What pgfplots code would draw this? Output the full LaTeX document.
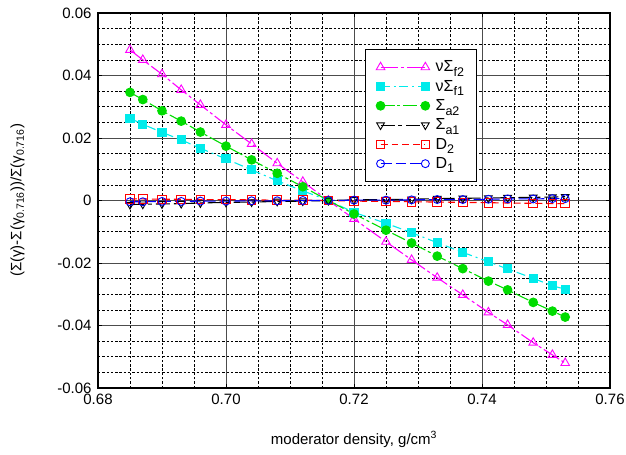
\documentclass[border=0pt]{standalone}
\usepackage{pgfplots}
\pgfplotsset{compat=1.18}
\usepackage{fontspec}
\setmainfont{Liberation Sans}
\setsansfont{Liberation Sans}
\usetikzlibrary{plotmarks}

\definecolor{cmag}{RGB}{255,0,255}
\definecolor{ccyan}{RGB}{0,235,235}
\definecolor{cgreen}{RGB}{0,220,0}
\definecolor{cred}{RGB}{255,0,0}
\definecolor{cblue}{RGB}{0,0,255}

% relative change of each constant vs. moderator density
\pgfplotstableread{
x      nf2      nf1      a2       a1       d2       d1
0.685  0.0482   0.0263   0.0346  -0.0013   0.0005  -0.0004
0.687  0.0450   0.0244   0.0323  -0.0012   0.0005  -0.0004
0.690  0.0404   0.0218   0.0287  -0.0011   0.0004  -0.0003
0.693  0.0354   0.0194   0.0254  -0.0010   0.0004  -0.0003
0.696  0.0306   0.0167   0.0219  -0.0008   0.0003  -0.0002
0.700  0.0242   0.0133   0.0174  -0.0006   0.0003  -0.0002
0.704  0.0181   0.0098   0.0130  -0.0005   0.0002  -0.0001
0.708  0.0119   0.0063   0.0087  -0.0003   0.0001  -0.0001
0.712  0.0060   0.0031   0.0044  -0.0002   0.0001   0.0000
0.716  0.0000   0.0000   0.0000   0.0000   0.0000   0.0000
0.720 -0.0059  -0.0038  -0.0043   0.0002  -0.0002   0.0001
0.725 -0.0132  -0.0073  -0.0095   0.0003  -0.0003   0.0001
0.729 -0.0190  -0.0103  -0.0136   0.0004  -0.0004   0.0002
0.733 -0.0247  -0.0135  -0.0178   0.0006  -0.0005   0.0003
0.737 -0.0302  -0.0166  -0.0218   0.0007  -0.0006   0.0003
0.741 -0.0358  -0.0196  -0.0258   0.0008  -0.0007   0.0004
0.744 -0.0398  -0.0219  -0.0286   0.0009  -0.0008   0.0005
0.748 -0.0455  -0.0249  -0.0326   0.0010  -0.0009   0.0005
0.751 -0.0494  -0.0273  -0.0354   0.0011  -0.0010   0.0006
0.753 -0.0520  -0.0284  -0.0373   0.0012  -0.0010   0.0006
}\datatable

% legend label: main symbol plus a large, low subscript
\newcommand{\lab}[2]{\hspace{4bp}#1\raisebox{-4.5bp}{\fontsize{12.5bp}{13bp}\selectfont #2}}

\begin{document}
\begin{tikzpicture}
\begin{axis}[
  scale only axis,
  width=512bp, height=375bp,
  xmin=0.68, xmax=0.76, ymin=-0.06, ymax=0.06,
  scaled x ticks=false, scaled y ticks=false,
  xtick={0.68,0.70,0.72,0.74,0.76},
  xticklabels={0.68,0.70,0.72,0.74,0.76},
  ytick={-0.06,-0.04,-0.02,0,0.02,0.04,0.06},
  yticklabels={-0.06,-0.04,-0.02,0,0.02,0.04,0.06},
  minor x tick num=3, minor y tick num=3,
  grid=both,
  major grid style={black!70, line width=0.9pt},
  minor grid style={black, line width=0.6pt, dash pattern=on 2.5pt off 1.8pt},
  axis line style={black, line width=1.4pt},
  tick style={black, line width=0.6pt},
  major tick length=4pt, minor tick length=2pt,
  tick align=inside,
  ticklabel style={font=\fontsize{15bp}{17bp}\selectfont},
  xticklabel style={yshift=-3pt},
  yticklabel style={xshift=-3pt},
  xlabel={moderator density, g/cm\textsuperscript{3}},
  ylabel={(Σ(γ)-Σ(γ\textsubscript{0.716}))/Σ(γ\textsubscript{0.716})},
  xlabel style={font=\fontsize{15bp}{17bp}\selectfont,
    at={(axis description cs:0.5,-0.137)}, anchor=center},
  ylabel style={font=\fontsize{15bp}{17bp}\selectfont,
    at={(axis description cs:-0.157,0.5)}, anchor=center},
  legend style={at={(rel axis cs:0.521,0.904)}, anchor=north west,
    draw=black, line width=1pt, fill=white,
    font=\fontsize{16bp}{18bp}\selectfont,
    row sep=2.8bp, inner xsep=11bp, inner ysep=9.5bp,
    cells={anchor=west}},
  legend image code/.code={
    \draw[#1] plot coordinates {(0cm,0cm) (1.58cm,0cm)};
  },
  every axis plot/.append style={line width=1.1pt},
]
\addplot[cmag, mark=triangle, mark size=5pt, mark options={solid, line width=0.9pt},
  dash pattern=on 18pt off 3pt on 3pt off 3pt] table[x=x,y=nf2]{\datatable};
\addlegendentry{\lab{νΣ}{f2}}
\addplot[ccyan, mark=square*, mark size=4pt, mark options={solid},
  dash pattern=on 9pt off 4pt on 2pt off 4pt] table[x=x,y=nf1]{\datatable};
\addlegendentry{\lab{νΣ}{f1}}
\addplot[cgreen, mark=*, mark size=4.3pt, mark options={solid},
  dash pattern=on 14pt off 3pt on 3pt off 3pt] table[x=x,y=a2]{\datatable};
\addlegendentry{\lab{Σ}{a2}}
\addplot[black, mark=triangle, mark size=4.5pt, mark options={solid, rotate=180, line width=0.9pt},
  dash pattern=on 14pt off 4pt on 4pt off 4pt] table[x=x,y=a1]{\datatable};
\addlegendentry{\lab{Σ}{a1}}
\addplot[cred, mark=square, mark size=4.3pt, mark options={solid, line width=0.9pt},
  dash pattern=on 7pt off 4pt] table[x=x,y=d2]{\datatable};
\addlegendentry{\lab{D}{2}}
\addplot[cblue, mark=o, mark size=4pt, mark options={solid, line width=0.9pt},
  dash pattern=on 11pt off 4pt] table[x=x,y=d1]{\datatable};
\addlegendentry{\lab{D}{1}}
\end{axis}
\pgfresetboundingbox
\path[use as bounding box] ([shift={(-98bp,-67bp)}]current axis.south west)
  rectangle ([shift={(16bp,13bp)}]current axis.north east);
\end{tikzpicture}
\end{document}
